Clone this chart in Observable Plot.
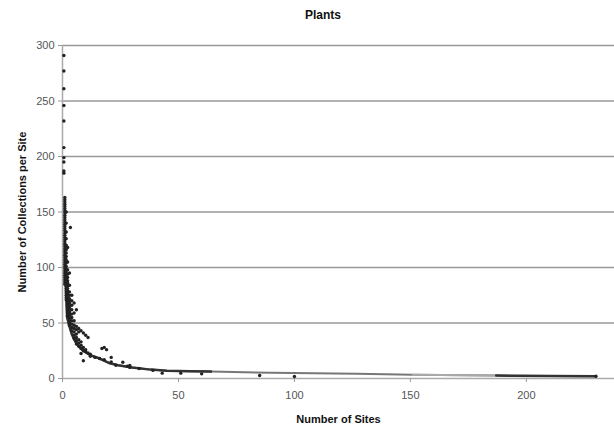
<!DOCTYPE html>
<html>
<head>
<meta charset="utf-8">
<script src="https://cdn.jsdelivr.net/npm/d3@7"></script>
<script src="https://cdn.jsdelivr.net/npm/@observablehq/plot@0.6"></script>
<style>
  html, body { margin: 0; padding: 0; background: #fff; }
  #wrap { position: relative; width: 614px; height: 433px; }
  #title { position: absolute; left: 0; top: 8px; width: 614px; box-sizing: border-box; padding-left: 32px;
           text-align: center; font: bold 12px/14px "Liberation Sans", Arial, sans-serif; color: #111; }
  #chart { position: absolute; left: 0; top: 30px; }
  #chart svg { display: block; }
</style>
</head>
<body>
<div id="wrap">
<div id="title">Plants</div>
<div id="chart"></div>
</div>
<script>
// Number of sites for each column of observed points
const siteCounts = [0.6, 1, 1.6, 2.2, 3, 3.4, 4, 5, 6, 7, 8, 9, 10, 11, 12, 14, 16, 17, 18, 19, 21, 23, 26, 28, 29, 33, 39, 43, 51, 60, 85, 100, 230];
// Collections per site observed at each of those site counts
const collectionsPerSite = [
  [291, 277, 261, 246, 232, 208, 199, 195, 187, 185],
  [163, 161, 159, 157, 155, 153, 151, 149, 147, 145, 143, 141, 139, 137, 135, 133, 131, 129, 127, 125, 123, 121, 119, 117, 115, 113, 111, 109, 107, 105, 103, 101, 99, 97, 95, 93, 91, 89, 87, 85],
  [150, 140, 132, 126, 120, 116, 113, 110, 107, 104, 101, 98, 96, 94, 92, 89, 87, 85, 83, 81, 79, 77, 75, 73, 71],
  [118, 105, 98, 94, 91, 88, 86, 83, 81, 79, 77, 75, 73, 71, 69, 67, 66, 64, 62, 60, 59, 57, 56],
  [95, 84, 78, 75, 72, 70, 68, 66, 64, 62, 60, 58, 57, 55, 54, 52, 51, 49, 48],
  [136],
  [75, 70, 66, 62, 58, 55, 52, 49, 46, 43],
  [68, 59, 52, 48, 45, 42, 39, 36],
  [62, 47, 44, 40, 37, 34, 31],
  [45, 42, 35, 32, 29],
  [43, 33, 30, 27, 22.5],
  [41, 28, 25, 16],
  [39, 26, 24],
  [37, 23],
  [22, 20],
  [19],
  [18],
  [27],
  [17, 28],
  [26],
  [19, 15],
  [12],
  [14.7],
  [11],
  [11.8, 10],
  [9],
  [7.3],
  [4.8],
  [4.8],
  [4.2],
  [2.7],
  [1.8],
  [2]
];
// Trend curve read along the dense band
const trendSites  = [1.2, 1.6, 2, 3, 4, 5.6, 7, 9, 12, 16, 20, 24, 30, 38, 45, 55, 64, 90, 127, 151, 187, 230];
const trendValues = [100, 75, 55, 47, 40, 33, 29, 25, 21, 18, 14, 12, 10, 8, 7, 6.5, 6.2, 5.2, 4.2, 3.3, 2.6, 2];
// Axis ticks
const xTicks = [0, 50, 100, 150, 200];
const yTicks = [0, 50, 100, 150, 200, 250, 300];

const points = siteCounts.flatMap((s, i) => collectionsPerSite[i].map(v => ({sites: s, value: v})));
const trend = trendSites.map((s, i) => ({sites: s, value: trendValues[i]}));

const font = '"Liberation Sans", Arial, sans-serif';

const chart = Plot.plot({
  width: 614,
  height: 403,
  marginTop: 15,
  marginBottom: 55,
  marginLeft: 62,
  marginRight: 0,
  style: {fontFamily: font, fontSize: "11px", color: "#555", background: "#fff"},
  x: {domain: [0, 238]},
  y: {domain: [0, 300]},
  marks: [
    Plot.gridY(yTicks.filter(d => d > 0), {stroke: "#999", strokeOpacity: 1, strokeWidth: 1.5}),
    Plot.ruleY([0], {stroke: "#aaa", strokeWidth: 1.5}),
    Plot.ruleX([0], {stroke: "#aaa", strokeWidth: 1.5}),
    Plot.axisY({ticks: yTicks, tickSize: 4, tickPadding: 4, stroke: "#999", fill: "#555",
      label: "Number of Collections per Site", labelAnchor: "center", labelOffset: 44}),
    Plot.axisX({ticks: xTicks, tickSize: 4, tickPadding: 9, stroke: "#999", fill: "#555",
      label: "Number of Sites", labelAnchor: "center", labelOffset: 44}),
    Plot.line(trend, {x: "sites", y: "value", stroke: "#777", strokeWidth: 2}),
    Plot.line(trend.filter(d => d.sites <= 64), {x: "sites", y: "value", stroke: "#333", strokeWidth: 2.5}),
    Plot.line(trend.filter(d => d.sites >= 151 && d.sites <= 187), {x: "sites", y: "value", stroke: "#aaa", strokeWidth: 2}),
    Plot.line(trend.filter(d => d.sites >= 187), {x: "sites", y: "value", stroke: "#333", strokeWidth: 2.5}),
    Plot.dot(points, {x: "sites", y: "value", r: 1.7, fill: "#222", stroke: "none"})
  ]
});

// Style the axis labels bold and dark, without arrows
chart.querySelectorAll('g[aria-label="x-axis label"] text, g[aria-label="y-axis label"] text').forEach(t => {
  t.setAttribute("font-weight", "bold");
  t.setAttribute("fill", "#111");
  t.textContent = t.textContent.replace(/\s*[→↑←↓]\s*/g, "").trim();
});
document.getElementById("chart").appendChild(chart);
</script>
</body>
</html>
